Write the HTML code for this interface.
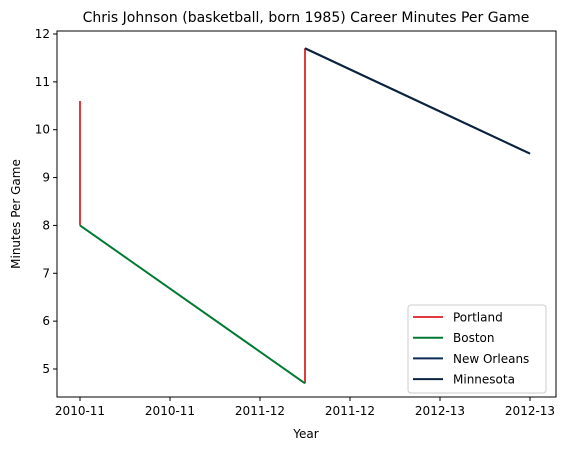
<!DOCTYPE html>
<html><head><meta charset="utf-8"><style>
body{margin:0;background:#fff;}
svg{font-family:"DejaVu Sans","Liberation Sans",sans-serif;}
</style></head><body>
<svg id="chart" width="581" height="453" xmlns="http://www.w3.org/2000/svg">
<text x="306" y="22" font-size="14" text-anchor="middle">Chris Johnson (basketball, born 1985) Career Minutes Per Game</text>
<g id="grid"></g>
<g id="marks"></g>
<rect x="57" y="31" width="499" height="366" fill="none" stroke="#000" stroke-width="1"/>
<text x="306" y="438" font-size="12" text-anchor="middle">Year</text>
<text transform="translate(20,214) rotate(-90)" font-size="12" text-anchor="middle">Minutes Per Game</text>
<g>
<rect x="408" y="305" width="138" height="88" rx="3" fill="#fff" stroke="#ccc"/>
<g id="legend"></g>
</g>
</svg>
<script>
const xTickValues=[0,0.4,0.8,1.2,1.6,2.0];
const xTickLabels=["2010-11","2010-11","2011-12","2011-12","2012-13","2012-13"];
const yTickValues=[5,6,7,8,9,10,11,12];
const seriesNames=["Portland","Boston","New Orleans","Minnesota"];
const seriesColors=["#e03a3e","#007a33","#0c2c56","#0c2340"];
const portlandX=[0,0,null,1,1];
const portlandY=[10.6,8.0,null,4.7,11.7];
const bostonX=[0,1];
const bostonY=[8.0,4.7];
const neworleansX=[1,2];
const neworleansY=[11.7,9.5];
const minnesotaX=[1,2];
const minnesotaY=[11.7,9.5];
const sx=v=>80+v*225;
const sy=v=>369-(v-5)*47.86;
const NS="http://www.w3.org/2000/svg";
const grid=document.getElementById('grid');
function mk(tag,attrs,parent){const e=document.createElementNS(NS,tag);for(const k in attrs)e.setAttribute(k,attrs[k]);parent.appendChild(e);return e;}
xTickValues.forEach((v,i)=>{
  const t=mk('line',{x1:sx(v),x2:sx(v),y1:397,y2:401,stroke:'#000'},grid);
  
  
  const l=mk('text',{x:sx(v),y:415,'font-size':12,'text-anchor':'middle'},grid);
  l.textContent=xTickLabels[i];
  
  
});
yTickValues.forEach(v=>{
  const t=mk('line',{x1:53,x2:57,y1:sy(v),y2:sy(v),stroke:'#000'},grid);
  
  
  const l=mk('text',{x:50,y:sy(v)+4,'font-size':12,'text-anchor':'end'},grid);
  l.textContent=String(v);
  
  
});
const marks=document.getElementById('marks');
const series=[[portlandX,portlandY],[bostonX,bostonY],[neworleansX,neworleansY],[minnesotaX,minnesotaY]];
series.forEach((s,i)=>{
  let d='',pen=false;
  s[0].forEach((x,j)=>{
    if(x===null||s[1][j]===null){pen=false;return;}
    d+=(pen?'L':'M')+sx(x)+' '+sy(s[1][j])+' ';pen=true;
  });
  const p=mk('path',{d:d,fill:'none',stroke:seriesColors[i],'stroke-width':2},marks);
  
  
});
const lg=document.getElementById('legend');
seriesNames.forEach((n,i)=>{
  const y=317+i*20.7;
  const l=mk('line',{x1:413,x2:443,y1:y,y2:y,stroke:seriesColors[i],'stroke-width':2},lg);
  
  
  const t=mk('text',{x:453,y:y+4.5,'font-size':12},lg);
  t.textContent=n;
  
  
});
</script>
</body></html>
